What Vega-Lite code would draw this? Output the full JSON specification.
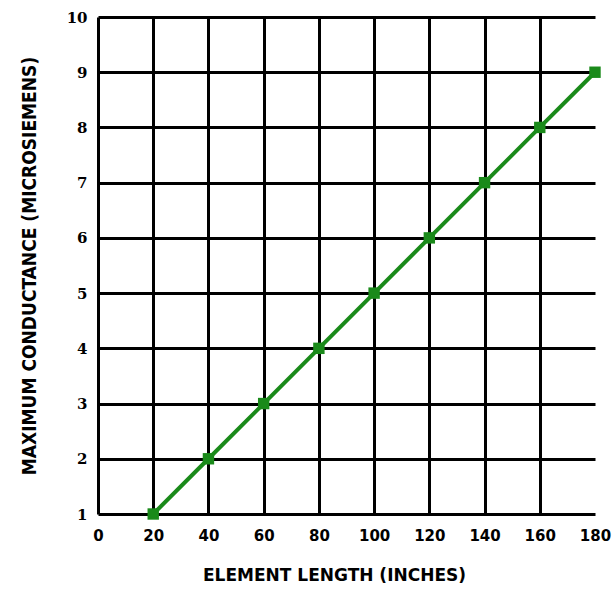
{
  "$schema": "https://vega.github.io/schema/vega-lite/v6.json",
  "autosize": {"type": "none"},
  "width": 497,
  "height": 497,
  "padding": {"left": 98, "top": 17, "right": 21, "bottom": 80},
  "background": "white",
  "config": {"view": {"stroke": null}},
  "data": {"values": [
    {"length": 20, "conductance": 1},
    {"length": 40, "conductance": 2},
    {"length": 60, "conductance": 3},
    {"length": 80, "conductance": 4},
    {"length": 100, "conductance": 5},
    {"length": 120, "conductance": 6},
    {"length": 140, "conductance": 7},
    {"length": 160, "conductance": 8},
    {"length": 180, "conductance": 9}
  ]},
  "encoding": {
    "x": {
      "field": "length", "type": "quantitative",
      "scale": {"domain": [0, 180], "nice": false, "zero": false},
      "axis": {
        "values": [0, 20, 40, 60, 80, 100, 120, 140, 160, 180],
        "title": "ELEMENT LENGTH (INCHES)",
        "titleFont": "DejaVu Sans", "titleFontSize": 17, "titleFontWeight": "bold",
        "titleColor": "black", "titlePadding": 24, "titleX": 236,
        "labelFont": "DejaVu Sans", "labelFontSize": 15, "labelFontWeight": "bold",
        "labelColor": "black", "labelPadding": 14, "labelFlush": false, "labelOverlap": false,
        "ticks": false, "domain": false,
        "grid": true, "gridColor": {"condition": {"test": "datum.value === 180", "value": "transparent"}, "value": "black"},
        "gridWidth": 3, "gridOpacity": 1
      }
    },
    "y": {
      "field": "conductance", "type": "quantitative",
      "scale": {"domain": [1, 10], "nice": false, "zero": false},
      "axis": {
        "values": [1, 2, 3, 4, 5, 6, 7, 8, 9, 10],
        "title": "MAXIMUM CONDUCTANCE (MICROSIEMENS)",
        "titleFont": "DejaVu Sans Condensed", "titleFontSize": 19, "titleFontWeight": "bold",
        "titleColor": "black", "titlePadding": 27,
        "labelFont": "DejaVu Serif", "labelFontSize": 15, "labelFontWeight": "bold",
        "labelColor": "black", "labelPadding": 11, "labelFlush": false, "labelOverlap": false,
        "ticks": false, "domain": false,
        "grid": true, "gridColor": "black", "gridWidth": 3, "gridOpacity": 1
      }
    }
  },
  "layer": [
    {"mark": {"type": "line", "color": "#1a8a1a", "strokeWidth": 4}},
    {"mark": {"type": "square", "color": "#1a8a1a", "filled": true, "opacity": 1, "size": 130}}
  ]
}
